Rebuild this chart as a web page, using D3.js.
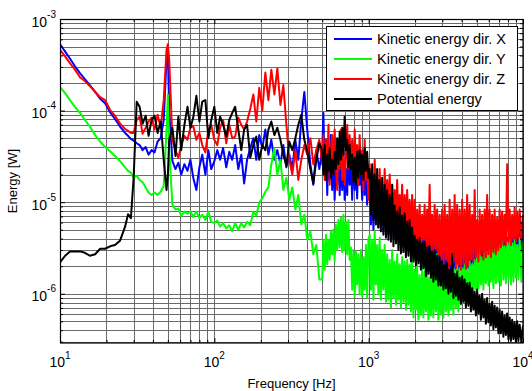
<!DOCTYPE html>
<html>
<head>
<meta charset="utf-8">
<script src="https://cdn.jsdelivr.net/npm/d3@7"></script>
<style>
body { margin: 0; background: #fff; }
text { font-family: "Liberation Sans", Arial, sans-serif; fill: #000; }
</style>
</head>
<body>
<div id="chart"></div>
<script>
// frequency grid [Hz], shared by all four spectra
const freq = [10, 10.8, 11.6, 12.5, 13.5, 14.5, 15.6, 16.9, 18.2, 19.6, 21.1, 22.7, 24.5, 26.4, 27.6, 28.8,
  30, 31.4, 32.8, 34.3, 35.9, 37.5, 39.2, 41, 42.9, 44.9, 47, 49, 50, 51, 53.5, 56, 58.5, 61, 64, 67,
  70, 73, 76.5, 80, 83.5, 87.5, 91.5, 95.5, 100, 104.5, 109, 114, 119.5, 125, 130.5, 136.5, 143, 149.5, 156, 163,
  171, 179, 187, 195.5, 204.5, 214, 224, 234, 245, 256, 268, 280, 293, 306, 320, 335, 350, 366, 383, 400,
  419, 438, 458, 479,
  500, 509, 519, 529, 539, 549, 559, 569, 580, 591, 602, 613, 625, 637, 649, 661, 674, 686, 699, 712,
  726, 739, 753, 767, 782, 797, 812, 827, 842, 858, 874, 891, 908, 925, 942, 960, 978, 996,
  1015, 1034, 1054, 1074, 1094, 1114, 1135, 1156, 1178, 1200, 1223, 1246, 1270, 1294, 1318, 1343, 1368, 1394, 1420, 1447,
  1474, 1502, 1530, 1559, 1588, 1618, 1648, 1679, 1711, 1743, 1776, 1809, 1843, 1878, 1913, 1949, 1986, 2023, 2061, 2100,
  2140, 2180, 2221, 2263, 2305, 2349, 2393, 2438, 2484, 2531, 2578, 2627, 2676, 2727, 2778, 2830, 2884, 2938, 2993, 3050,
  3107, 3166, 3225, 3286, 3348, 3411, 3475, 3541, 3607, 3675, 3744, 3815, 3886, 3960, 4034, 4110, 4187, 4266, 4346, 4428,
  4512, 4597, 4683, 4771, 4861, 4953, 5046, 5141, 5237, 5336, 5436, 5539, 5643, 5749, 5857, 5967, 6080, 6194, 6311, 6430,
  6551, 6674, 6800, 6928, 7058, 7191, 7326, 7464, 7605, 7748, 7894, 8043, 8194, 8348, 8505, 8665, 8828, 8995, 9164, 9336,
  9512, 9756, 10000];

// energy [W]
const kinX = [5.3e-4, 4.4e-4, 3.7e-4, 3.05e-4, 2.55e-4, 2.2e-4, 1.9e-4, 1.6e-4, 1.35e-4, 1.2e-4, 9.6e-5, 8.1e-5, 6.7e-5, 5.7e-5, 5.3e-5, 4.9e-5,
  4.7e-5, 4.4e-5, 4.2e-5, 3.7e-5, 4.0e-5, 3.3e-5, 3.7e-5, 3.5e-5, 4.6e-5, 5.0e-5, 7.9e-5, 3.6e-4, 4.4e-4, 1.0e-4, 2.8e-5, 2.3e-5, 2.7e-5, 2.0e-5, 2.6e-5, 2.2e-5,
  2.9e-5, 1.85e-5, 1.36e-5, 2.4e-5, 3.3e-5, 2.0e-5, 3.7e-5, 2.3e-5, 2.8e-5, 3.7e-5, 2.9e-5, 3.9e-5, 2.4e-5, 3.55e-5, 2.9e-5, 4.2e-5, 2.3e-5, 3.3e-5, 1.6e-5, 2.9e-5,
  3.9e-5, 5.0e-5, 2.9e-5, 5.4e-5, 3.9e-5, 6.2e-5, 3.3e-5, 4.8e-5, 2.9e-5, 3.7e-5, 2.6e-5, 4.2e-5, 2.4e-5, 3.3e-5, 2.3e-5, 4.8e-5, 2.9e-5, 7.9e-5, 1.6e-4, 6.2e-5,
  2.6e-5, 1.55e-5, 3.7e-5, 2.3e-5,
  3.7e-5, 9.4e-5, 2.0e-5, 4.8e-5, 1.2e-5, 3.7e-5, 1.75e-5, 5.4e-5, 1.36e-5, 3.3e-5, 1.06e-5, 2.9e-5, 1.55e-5, 4.2e-5, 1.2e-5, 2.9e-5, 1.36e-5, 3.7e-5, 1.06e-5, 2.3e-5,
  1.2e-5, 4.2e-5, 1.55e-5, 2.9e-5, 1.06e-5, 3.7e-5, 1.36e-5, 2.6e-5, 1.1e-5, 3.3e-5, 1.55e-5, 2.3e-5, 1.06e-5, 2.9e-5, 1.2e-5, 2.0e-5, 9.4e-6, 2.3e-5,
  1.75e-5, 5.7e-6, 2.0e-5, 5.0e-6, 1.55e-5, 6.4e-6, 1.75e-5, 5.3e-6, 1.36e-5, 5.7e-6, 1.55e-5, 4.8e-6, 1.2e-5, 5.3e-6, 1.36e-5, 4.4e-6, 1.06e-5,
  4.8e-6, 1.2e-5, 4.1e-6, 9.4e-6, 5.0e-6, 1.06e-5, 4.1e-6, 8.3e-6, 4.4e-6, 9.4e-6, 3.9e-6, 8.3e-6, 4.3e-6, 7.3e-6, 3.7e-6, 7.9e-6, 3.4e-6, 7.3e-6,
  3.0e-6, 6.4e-6, 2.7e-6, 5.7e-6, 3.0e-6, 6.8e-6, 2.5e-6, 5.3e-6, 2.85e-6, 6.1e-6, 2.5e-6, 5.0e-6, 2.7e-6, 5.7e-6, 2.35e-6, 4.8e-6, 2.5e-6, 4.4e-6, 2.25e-6, 4.1e-6, 2.35e-6, 3.9e-6,
  1.9e-6, 3.7e-6, 1.83e-6, 3.4e-6, 1.9e-6, 3.2e-6, 1.75e-6, 3.4e-6, 1.83e-6, 3.0e-6, 1.75e-6, 3.2e-6, 1.83e-6, 3.0e-6, 1.75e-6, 3.2e-6, 1.83e-6, 2.85e-6, 1.9e-6, 3.2e-6, 1.83e-6, 3.0e-6, 1.9e-6, 3.2e-6,
  2.05e-6, 3.2e-6, 2.1e-6, 3.4e-6, 2.05e-6, 3.0e-6, 2.15e-6, 3.3e-6, 2.25e-6, 3.55e-6, 2.1e-6, 3.2e-6, 2.25e-6, 3.7e-6, 2.25e-6, 3.4e-6, 2.35e-6, 3.7e-6, 2.25e-6, 3.9e-6, 2.5e-6, 3.7e-6, 2.35e-6, 4.1e-6,
  2.6e-6, 3.9e-6, 2.5e-6, 4.3e-6, 2.7e-6, 4.1e-6, 2.6e-6, 4.4e-6, 2.75e-6, 4.6e-6, 2.7e-6, 4.8e-6, 2.85e-6, 4.6e-6, 2.75e-6, 5.0e-6, 2.85e-6, 4.8e-6];

const kinY = [1.8e-4, 1.55e-4, 1.3e-4, 1.1e-4, 9.4e-5, 7.9e-5, 6.7e-5, 5.4e-5, 4.6e-5, 4.0e-5, 3.6e-5, 3.2e-5, 2.8e-5, 2.4e-5, 2.2e-5, 2.1e-5,
  1.85e-5, 1.95e-5, 1.75e-5, 1.65e-5, 1.45e-5, 1.27e-5, 1.2e-5, 1.27e-5, 1.2e-5, 1.3e-5, 1.5e-5, 6.2e-5, 1.5e-4, 3.7e-5, 9.4e-6, 8.3e-6, 8.5e-6, 7.1e-6, 7.9e-6, 7.5e-6,
  7.9e-6, 6.9e-6, 7.9e-6, 6.7e-6, 7.3e-6, 6.4e-6, 7.9e-6, 6.1e-6, 5.9e-6, 6.3e-6, 5.4e-6, 5.9e-6, 5.2e-6, 5.6e-6, 4.8e-6, 5.9e-6, 5.0e-6, 5.9e-6, 5.3e-6, 6.1e-6,
  5.6e-6, 7.9e-6, 7.1e-6, 9.9e-6, 1.1e-5, 1.3e-5, 1.45e-5, 2.6e-5, 3.9e-5, 2.0e-5, 2.9e-5, 1.36e-5, 1.85e-5, 1.06e-5, 1.45e-5, 8.3e-6, 1.2e-5, 5.7e-6, 7.3e-6, 3.9e-6,
  4.8e-6, 2.7e-6, 3.4e-6, 1.43e-6,
  1.43e-6, 3.9e-6, 1.83e-6, 4.4e-6, 2.1e-6, 3.9e-6, 2.35e-6, 4.8e-6, 2.7e-6, 5.0e-6, 2.25e-6, 5.7e-6, 3.0e-6, 6.4e-6, 3.2e-6, 6.8e-6, 2.85e-6, 7.3e-6, 3.0e-6, 6.1e-6,
  2.7e-6, 6.4e-6, 2.35e-6, 3.2e-6, 1.11e-6, 3.0e-6, 9.3e-7, 2.85e-6, 1.26e-6, 2.7e-6, 9.8e-7, 3.0e-6, 9.3e-7, 2.5e-6, 1.11e-6, 3.4e-6, 9.0e-7, 3.9e-6,
  4.4e-6, 1.11e-6, 3.9e-6, 8.6e-7, 4.8e-6, 1.26e-6, 3.4e-6, 9.8e-7, 4.1e-6, 8.6e-7, 3.0e-6, 1.11e-6, 3.4e-6, 8.2e-7,
  2.7e-6, 8.6e-7, 2.35e-6, 7.1e-7, 3.0e-6, 9.0e-7, 2.25e-6, 7.6e-7, 2.7e-6, 8.6e-7, 2.1e-6, 7.1e-7, 2.5e-6, 8.2e-7, 2.25e-6, 6.7e-7, 2.35e-6, 7.6e-7, 2.1e-6,
  6.4e-7, 3.0e-6, 5.5e-7, 1.83e-6, 6.7e-7, 2.1e-6, 5.2e-7, 1.6e-6, 5.9e-7, 1.9e-6, 5.5e-7, 1.75e-6, 6.4e-7, 2.1e-6, 5.2e-7, 1.5e-6, 5.8e-7, 1.83e-6, 5.5e-7, 1.6e-6,
  6.4e-7, 2.7e-6, 5.2e-7, 1.75e-6, 5.9e-7, 1.83e-6, 5.5e-7, 1.55e-6, 6.4e-7, 1.9e-6, 5.8e-7, 1.75e-6, 6.7e-7, 2.05e-6, 5.9e-7, 1.83e-6, 7.1e-7, 2.1e-6, 6.4e-7, 1.9e-6,
  7.6e-7, 1.9e-6, 8.6e-7, 2.1e-6, 7.8e-7, 1.83e-6, 9.0e-7, 2.25e-6, 8.6e-7, 2.1e-6, 9.8e-7, 2.35e-6,
  1.11e-6, 2.7e-6, 1.15e-6, 3.0e-6, 1.26e-6, 2.5e-6, 1.11e-6, 3.2e-6, 1.3e-6, 2.85e-6, 1.23e-6, 3.4e-6, 1.35e-6, 3.0e-6, 1.15e-6, 3.7e-6, 1.3e-6, 3.2e-6, 1.35e-6, 3.4e-6,
  1.23e-6, 5.3e-6, 1.43e-6, 3.3e-6, 1.3e-6, 3.7e-6, 1.43e-6, 4.1e-6, 1.26e-6, 3.55e-6, 1.35e-6, 3.9e-6, 1.5e-6, 3.4e-6, 1.43e-6, 4.1e-6, 1.35e-6, 3.7e-6];

const kinZ = [4.6e-4, 3.9e-4, 3.3e-4, 2.8e-4, 2.3e-4, 2.1e-4, 1.85e-4, 1.6e-4, 1.4e-4, 1.3e-4, 1.02e-4, 8.8e-5, 7.2e-5, 6.3e-5, 6.0e-5, 5.7e-5,
  5.7e-5, 7.9e-5, 8.6e-5, 5.6e-5, 6.5e-5, 7.6e-5, 8.4e-5, 6.2e-5, 9.0e-5, 6.5e-5, 1.3e-4, 4.6e-4, 5.3e-4, 3.6e-4, 4.8e-5, 3.7e-5, 3.05e-5, 4.2e-5, 5.3e-5, 4.8e-5,
  6.5e-5, 6.8e-5, 4.8e-5, 5.7e-5, 4.2e-5, 3.5e-5, 6.2e-5, 7.0e-5, 4.8e-5, 4.2e-5, 6.5e-5, 7.9e-5, 4.4e-5, 7.0e-5, 5.0e-5, 5.2e-5, 8.4e-5, 7.0e-5, 6.2e-5, 7.6e-5,
  1.05e-4, 1.5e-4, 7.6e-5, 1.77e-4, 1.0e-4, 2.6e-4, 1.3e-4, 2.8e-4, 1.5e-4, 2.9e-4, 1.15e-4, 1.9e-4, 7.0e-5, 2.9e-5, 2.0e-5, 3.7e-5, 1.75e-5, 2.9e-5, 4.2e-5, 3.3e-5,
  5.0e-5, 2.6e-5, 3.7e-5, 4.8e-5,
  2.6e-5, 5.4e-5, 1.75e-5, 4.8e-5, 2.3e-5, 7.0e-5, 1.55e-5, 3.7e-5, 5.4e-5, 2.0e-5, 6.2e-5, 2.9e-5, 1.36e-5, 4.8e-5, 2.3e-5, 6.2e-5, 1.75e-5, 3.7e-5, 1.55e-5, 2.9e-5,
  7.0e-5, 2.3e-5, 5.4e-5, 2.6e-5, 4.8e-5, 1.75e-5, 6.2e-5, 2.3e-5, 4.2e-5, 1.55e-5, 5.4e-5, 2.0e-5, 3.7e-5, 1.36e-5, 4.8e-5, 1.75e-5, 2.9e-5, 1.06e-5,
  2.6e-5, 9.4e-6, 2.0e-5, 8.3e-6, 2.9e-5, 1.06e-5, 1.75e-5, 8.3e-6, 2.3e-5, 9.4e-6, 1.55e-5, 7.3e-6, 2.3e-5, 8.3e-6, 1.75e-5, 7.3e-6, 2.0e-5,
  6.4e-6, 1.55e-5, 5.7e-6, 1.36e-5, 7.3e-6, 1.75e-5, 5.7e-6, 1.2e-5, 6.4e-6, 1.55e-5, 5.0e-6, 1.2e-5, 5.7e-6, 1.36e-5, 5.0e-6, 1.06e-5, 4.4e-6, 1.2e-5,
  3.4e-6, 1.06e-5, 3.0e-6, 8.3e-6, 3.4e-6, 9.4e-6, 3.0e-6, 7.3e-6, 3.9e-6, 9.4e-6, 2.7e-6, 8.3e-6, 3.4e-6, 1.55e-5, 3.0e-6, 7.3e-6, 2.7e-6, 9.4e-6, 3.0e-6, 8.3e-6, 2.7e-6, 7.3e-6,
  2.35e-6, 8.3e-6, 2.1e-6, 9.4e-6, 2.35e-6, 7.3e-6, 1.9e-6, 1.06e-5, 2.1e-6, 8.3e-6, 2.25e-6, 1.2e-5, 1.9e-6, 9.4e-6, 2.1e-6, 8.3e-6, 1.83e-6, 1.06e-5, 2.1e-6, 8.3e-6, 1.9e-6, 1.2e-5, 2.1e-6, 9.4e-6,
  2.35e-6, 7.3e-6, 2.25e-6, 1.36e-5, 2.5e-6, 6.4e-6, 2.25e-6, 8.3e-6, 2.7e-6, 7.3e-6, 2.35e-6, 8.3e-6, 2.5e-6, 1.2e-5, 2.7e-6, 8.3e-6, 2.5e-6, 7.3e-6, 2.85e-6, 8.3e-6, 2.7e-6, 6.8e-6, 3.0e-6, 8.3e-6,
  3.2e-6, 7.9e-6, 3.4e-6, 7.3e-6, 3.4e-6, 2.6e-5, 3.7e-6, 8.3e-6, 3.4e-6, 7.3e-6, 3.9e-6, 8.8e-6, 3.7e-6, 7.9e-6, 4.1e-6, 8.3e-6, 3.9e-6, 7.3e-6];

const potE = [2.2e-6, 2.6e-6, 2.9e-6, 2.9e-6, 2.9e-6, 2.8e-6, 2.6e-6, 2.7e-6, 3.1e-6, 3.1e-6, 3.3e-6, 3.4e-6, 3.8e-6, 5.4e-6, 7.4e-6, 6.7e-6,
  1.85e-5, 1.25e-4, 1.1e-4, 7.2e-5, 8.8e-5, 5.3e-5, 7.9e-5, 8.8e-5, 5.7e-5, 7.6e-5, 2.9e-5, 1.36e-5, 2.0e-5, 4.8e-5, 6.5e-5, 3.2e-5, 8.6e-5, 3.7e-5, 7.0e-5, 1.1e-4,
  6.5e-5, 8.4e-5, 1.45e-4, 7.6e-5, 1.25e-4, 1.3e-4, 5.0e-5, 7.9e-5, 1.1e-4, 5.7e-5, 8.6e-5, 7.0e-5, 5.2e-5, 7.9e-5, 9.4e-5, 1.1e-4, 6.2e-5, 3.7e-5, 6.2e-5, 7.0e-5,
  3.05e-5, 4.2e-5, 5.2e-5, 2.9e-5, 4.2e-5, 3.7e-5, 6.2e-5, 7.6e-5, 5.4e-5, 6.5e-5, 4.8e-5, 3.3e-5, 2.5e-5, 4.6e-5, 3.7e-5, 5.0e-5, 7.0e-5, 9.0e-5, 4.8e-5, 3.6e-5,
  2.3e-5, 1.6e-5, 2.9e-5, 4.4e-5,
  3.7e-5, 2.0e-5, 4.2e-5, 1.75e-5, 3.3e-5, 2.2e-5, 3.9e-5, 1.85e-5, 2.9e-5, 2.0e-5, 3.55e-5, 2.3e-5, 5.0e-5, 2.6e-5, 5.9e-5, 2.9e-5, 6.5e-5, 3.3e-5, 8.6e-5, 3.7e-5,
  4.8e-5, 2.4e-5, 4.2e-5, 2.3e-5, 3.3e-5, 1.65e-5, 3.05e-5, 1.55e-5, 3.55e-5, 1.85e-5, 3.7e-5, 2.0e-5, 3.3e-5, 1.75e-5, 3.9e-5, 2.2e-5, 3.55e-5, 1.85e-5,
  2.3e-5, 7.3e-6, 2.6e-5, 6.4e-6, 2.0e-5, 5.7e-6, 2.3e-5, 5.3e-6, 1.75e-5, 4.8e-6, 1.85e-5, 4.4e-6, 1.55e-5, 4.1e-6, 1.36e-5, 3.9e-6, 1.2e-5,
  3.7e-6, 1.55e-5, 3.3e-6, 9.2e-6, 3.55e-6, 7.9e-6, 3.0e-6, 8.8e-6, 2.75e-6, 7.1e-6, 2.85e-6, 7.5e-6, 2.5e-6, 6.1e-6, 2.6e-6, 6.4e-6, 2.25e-6, 5.3e-6,
  2.25e-6, 4.3e-6, 2.05e-6, 3.9e-6, 2.15e-6, 4.1e-6, 1.83e-6, 3.55e-6, 1.9e-6, 3.7e-6, 1.55e-6, 3.2e-6, 1.65e-6, 3.3e-6, 1.5e-6, 2.85e-6, 1.35e-6, 3.0e-6, 1.43e-6, 2.6e-6, 1.23e-6, 2.5e-6,
  1.23e-6, 2.25e-6, 1.11e-6, 2.05e-6, 1.15e-6, 2.15e-6, 1.0e-6, 1.83e-6, 1.05e-6, 2.7e-6, 9.0e-7, 1.65e-6, 9.5e-7, 1.75e-6, 8.6e-7, 1.5e-6, 7.8e-7, 1.55e-6, 8.2e-7, 1.43e-6, 7.1e-7, 1.3e-6, 7.4e-7, 1.32e-6,
  6.4e-7, 1.15e-6, 6.7e-7, 1.05e-6, 5.8e-7, 1.11e-6, 6.1e-7, 9.5e-7, 5.2e-7, 1.0e-6, 5.5e-7, 8.6e-7, 4.7e-7, 9.0e-7, 4.9e-7, 7.8e-7, 4.5e-7, 8.2e-7, 4.1e-7, 7.4e-7, 4.3e-7, 7.1e-7, 3.7e-7, 6.7e-7,
  3.7e-7, 6.4e-7, 3.4e-7, 5.8e-7, 3.55e-7, 6.1e-7, 3.2e-7, 5.5e-7, 3.05e-7, 5.2e-7, 3.2e-7, 4.9e-7, 3.0e-7, 5.0e-7, 3.05e-7, 4.6e-7, 3.0e-7, 4.5e-7];

const seriesNames = ["Kinetic energy dir. X", "Kinetic energy dir. Y", "Kinetic energy dir. Z", "Potential energy"];
const seriesColors = ["#0000ff", "#00ff00", "#ff0000", "#000000"];
const xTickExp = [1, 2, 3, 4];
const yTickExp = [-6, -5, -4, -3];

const margin = { top: 19, right: 9, bottom: 48, left: 60 };
const width = 532 - margin.left - margin.right;
const height = 391 - margin.top - margin.bottom;

const svg = d3.select("#chart").append("svg")
  .attr("width", 532)
  .attr("height", 391);

const g = svg.append("g")
  .attr("transform", `translate(${margin.left},${margin.top})`);

const x = d3.scaleLog().domain([10, 1e4]).range([0, width]);
const y = d3.scaleLog().domain([2.9e-7, 1e-3]).range([height, 0]);

const isMajor = v => Math.abs(Math.log10(v) - Math.round(Math.log10(v))) < 1e-9;
const crisp = v => Math.round(v) + 0.5;

// grid (major + minor)
g.append("g").selectAll("line")
  .data(x.ticks())
  .join("line")
  .attr("x1", d => crisp(x(d))).attr("x2", d => crisp(x(d)))
  .attr("y1", 0).attr("y2", height)
  .attr("stroke", "#6a6a6a").attr("stroke-width", 1);

g.append("g").selectAll("line")
  .data(y.ticks())
  .join("line")
  .attr("y1", d => crisp(y(d))).attr("y2", d => crisp(y(d)))
  .attr("x1", 0).attr("x2", width)
  .attr("stroke", "#6a6a6a").attr("stroke-width", 1);

// curves
svg.append("defs").append("clipPath").attr("id", "plotclip")
  .append("rect").attr("width", width).attr("height", height);

const line = d3.line()
  .x(d => x(d[0]))
  .y(d => y(d[1]));

const series = [kinX, kinY, kinZ, potE];
g.append("g").attr("clip-path", "url(#plotclip)")
  .selectAll("path")
  .data(series)
  .join("path")
  .attr("d", s => line(d3.zip(freq, s)))
  .attr("fill", "none")
  .attr("stroke", (s, i) => seriesColors[i])
  .attr("stroke-width", 2)
  .attr("stroke-linejoin", "round");

// inward ticks on all four sides
const xMinor = x.ticks().filter(d => !isMajor(d));
const yMinor = y.ticks().filter(d => !isMajor(d));
const xMajor = xTickExp.map(e => Math.pow(10, e));
const yMajor = yTickExp.map(e => Math.pow(10, e));

function tickAxis(axis, vals, size, transform) {
  const a = g.append("g").attr("transform", transform)
    .call(axis.tickValues(vals).tickSize(size).tickFormat(""));
  a.select(".domain").remove();
  a.selectAll("line").attr("stroke", "#000");
}
tickAxis(d3.axisBottom(x), xMinor, -3, `translate(0,${height})`);
tickAxis(d3.axisBottom(x), xMajor, -5, `translate(0,${height})`);
tickAxis(d3.axisTop(x), xMinor, -3, "translate(0,0)");
tickAxis(d3.axisTop(x), xMajor, -5, "translate(0,0)");
tickAxis(d3.axisLeft(y), yMinor, -3, "translate(0,0)");
tickAxis(d3.axisLeft(y), yMajor, -5, "translate(0,0)");
tickAxis(d3.axisRight(y), yMinor, -3, `translate(${width},0)`);
tickAxis(d3.axisRight(y), yMajor, -5, `translate(${width},0)`);

// box
g.append("rect")
  .attr("x", 0.5).attr("y", 0.5)
  .attr("width", width - 0.5).attr("height", height - 0.5)
  .attr("fill", "none").attr("stroke", "#000").attr("stroke-width", 1.2);

// tick labels 10^n
g.append("g").selectAll("text")
  .data(xTickExp)
  .join("text")
  .attr("x", e => x(Math.pow(10, e)))
  .attr("y", height + 24)
  .attr("text-anchor", "middle")
  .attr("font-size", 14)
  .each(function(e) {
    const t = d3.select(this);
    t.append("tspan").text("10");
    t.append("tspan").attr("dy", -8).attr("font-size", 10).text(e);
  });

g.append("g").selectAll("text")
  .data(yTickExp)
  .join("text")
  .attr("x", -4)
  .attr("y", e => y(Math.pow(10, e)) + 7.5)
  .attr("text-anchor", "end")
  .attr("font-size", 14)
  .each(function(e) {
    const t = d3.select(this);
    t.append("tspan").text("10");
    t.append("tspan").attr("dy", -9).attr("font-size", 10).text(e);
  });

// axis titles
svg.append("text")
  .attr("x", margin.left + width / 2)
  .attr("y", 388)
  .attr("text-anchor", "middle")
  .attr("font-size", 13)
  .text("Frequency [Hz]");

svg.append("text")
  .attr("transform", `translate(17,${margin.top + height / 2}) rotate(-90)`)
  .attr("text-anchor", "middle")
  .attr("font-size", 13)
  .text("Energy [W]");

// legend
const legend = g.append("g").attr("transform", "translate(266,7)");
legend.append("rect")
  .attr("x", 0.5).attr("y", 0.5)
  .attr("width", 191).attr("height", 84)
  .attr("fill", "#fff").attr("stroke", "#000").attr("stroke-width", 1);

const items = legend.selectAll("g.item")
  .data(seriesNames)
  .join("g")
  .attr("class", "item")
  .attr("transform", (d, i) => `translate(0,${13 + i * 20})`);

items.append("line")
  .attr("x1", 8).attr("x2", 46)
  .attr("stroke", (d, i) => seriesColors[i])
  .attr("stroke-width", 2);

items.append("text")
  .attr("x", 51)
  .attr("y", 5)
  .attr("font-size", 14.5)
  .text(d => d);
</script>
</body>
</html>
